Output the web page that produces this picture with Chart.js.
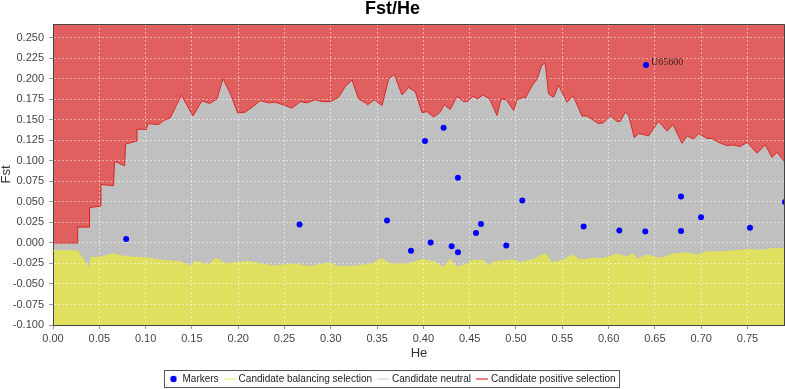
<!DOCTYPE html>
<html><head><meta charset="utf-8">
<script src="https://cdn.jsdelivr.net/npm/chart.js@4/dist/chart.umd.min.js"></script>
<style>html,body{margin:0;padding:0;background:#fff;overflow:hidden}</style>
</head><body>
<canvas id="c" width="785" height="389" style="display:block;width:785px;height:389px"></canvas>
<script>
// ---- data ----
const seriesNames = ['Markers', 'Candidate balancing selection', 'Candidate neutral', 'Candidate positive selection'];
const chartTitle = 'Fst/He';
const xTitle = 'He';
const yTitle = 'Fst';
const xRange = [0, 0.7905];
const yRange = [-0.1, 0.2668];
const xStep = 0.05;
const yStep = 0.025;

// upper boundary of the neutral envelope
const heUpper = [0, 0.0266, 0.0266, 0.0395, 0.0395, 0.0518, 0.0518, 0.0654, 0.0665, 0.0773, 0.0784, 0.09, 0.0907, 0.1008, 0.1026, 0.114, 0.1194, 0.1267, 0.1386, 0.1512, 0.1609, 0.1691, 0.1771, 0.1836, 0.1925, 0.1994, 0.2077, 0.2166, 0.2239, 0.2328, 0.2401, 0.249, 0.2581, 0.2671, 0.2743, 0.2833, 0.2905, 0.2995, 0.3084, 0.3157, 0.3229, 0.33, 0.3373, 0.3397, 0.347, 0.3553, 0.3624, 0.3686, 0.3769, 0.384, 0.3913, 0.3985, 0.4039, 0.411, 0.4175, 0.4226, 0.429, 0.4363, 0.4434, 0.4477, 0.4536, 0.4585, 0.4644, 0.4715, 0.4795, 0.4838, 0.4895, 0.4974, 0.5011, 0.5082, 0.51, 0.5173, 0.5227, 0.5281, 0.5316, 0.5352, 0.5406, 0.546, 0.5551, 0.5616, 0.5713, 0.5767, 0.5892, 0.5946, 0.6018, 0.6091, 0.6127, 0.618, 0.6216, 0.6278, 0.6324, 0.6432, 0.654, 0.6631, 0.6695, 0.6793, 0.6847, 0.6918, 0.6972, 0.7063, 0.7117, 0.7188, 0.7279, 0.735, 0.7422, 0.7495, 0.7603, 0.7692, 0.7765, 0.7819, 0.7897, 0.7905];
const fstUpper = [0, 0, 0.0193, 0.0193, 0.043, 0.045, 0.0713, 0.0697, 0.0994, 0.094, 0.1206, 0.124, 0.1386, 0.1383, 0.1454, 0.1442, 0.149, 0.1526, 0.18, 0.1547, 0.1734, 0.1698, 0.1755, 0.2004, 0.1795, 0.1583, 0.1595, 0.1667, 0.1734, 0.1707, 0.1715, 0.1683, 0.1643, 0.1722, 0.1707, 0.1746, 0.1722, 0.1722, 0.1775, 0.1907, 0.1987, 0.1755, 0.1707, 0.1683, 0.1746, 0.1675, 0.1995, 0.2055, 0.1803, 0.1895, 0.1843, 0.1587, 0.1602, 0.1535, 0.1587, 0.1683, 0.1626, 0.1787, 0.1722, 0.1722, 0.1787, 0.1755, 0.1803, 0.1755, 0.1554, 0.1755, 0.1746, 0.1614, 0.1746, 0.1775, 0.1763, 0.1915, 0.1995, 0.2175, 0.2187, 0.1815, 0.1775, 0.1923, 0.1715, 0.1795, 0.1547, 0.1547, 0.1454, 0.1466, 0.1547, 0.1482, 0.1482, 0.1595, 0.1554, 0.1282, 0.1334, 0.1306, 0.1482, 0.1362, 0.1442, 0.1214, 0.1306, 0.1266, 0.1334, 0.1274, 0.1274, 0.1226, 0.1186, 0.1194, 0.1174, 0.1226, 0.1094, 0.1194, 0.1042, 0.1106, 0.0994, 0.098];

// lower boundary of the neutral envelope
const heLower = [0, 0.0266, 0.0395, 0.041, 0.0511, 0.0619, 0.0654, 0.0727, 0.087, 0.0978, 0.1159, 0.1375, 0.1483, 0.1537, 0.168, 0.1753, 0.1879, 0.2023, 0.2131, 0.2239, 0.2382, 0.2598, 0.2779, 0.2987, 0.3067, 0.3283, 0.3462, 0.3542, 0.3642, 0.3823, 0.3985, 0.411, 0.4218, 0.429, 0.4355, 0.4471, 0.4536, 0.465, 0.4715, 0.4758, 0.4974, 0.5046, 0.519, 0.5316, 0.5389, 0.5514, 0.5605, 0.5694, 0.5821, 0.5946, 0.6091, 0.6199, 0.627, 0.6307, 0.6415, 0.6559, 0.6685, 0.6847, 0.6955, 0.7063, 0.7207, 0.735, 0.7495, 0.7638, 0.7782, 0.7905];
const fstLower = [-0.0096, -0.0096, -0.0309, -0.0177, -0.0173, -0.014, -0.0128, -0.0156, -0.0173, -0.0177, -0.0208, -0.0228, -0.028, -0.022, -0.0268, -0.0188, -0.0256, -0.0232, -0.0228, -0.0256, -0.028, -0.0256, -0.0288, -0.024, -0.0288, -0.028, -0.0248, -0.0188, -0.0256, -0.0256, -0.02, -0.0228, -0.0297, -0.02, -0.0297, -0.0256, -0.0208, -0.0216, -0.028, -0.0228, -0.0208, -0.024, -0.02, -0.0128, -0.024, -0.0208, -0.0148, -0.0208, -0.0188, -0.0188, -0.0136, -0.0168, -0.0128, -0.02, -0.0148, -0.0188, -0.0136, -0.012, -0.0148, -0.0108, -0.0108, -0.0096, -0.008, -0.0088, -0.0068, -0.0068];

// markers
const markerHe  = [0.079, 0.2663, 0.3607, 0.3866, 0.4017, 0.4078, 0.4218, 0.4305, 0.4373, 0.4373, 0.4568, 0.4622, 0.4895, 0.5068, 0.573, 0.6116, 0.6396, 0.6404, 0.6782, 0.6782, 0.6998, 0.7527, 0.7905];
const markerFst = [0.0048, 0.0225, 0.0273, -0.0096, 0.1242, 0.0004, 0.1403, -0.004, 0.0793, -0.0112, 0.012, 0.0232, -0.0032, 0.0517, 0.02, 0.0152, 0.014, 0.2167, 0.0565, 0.0144, 0.0312, 0.0184, 0.05];
const markerLabels = ['', '', '', '', '', '', '', '', '', '', '', '', '', '', '', '', '', 'U65600', '', '', '', '', ''];

// ---- styling ----
const C_RED_FILL = 'rgb(224,96,96)';
const C_RED_LINE = 'rgb(214,36,36)';
const C_GRAY = 'rgb(192,192,192)';
const C_YELLOW = 'rgb(224,224,96)';
const C_BLUE = '#0000ff';
const C_GRID = 'rgba(255,255,255,0.5)';
const FONT = '"Liberation Sans", Arial, sans-serif';

const toXY = (xs, ys) => xs.map((x, i) => ({x: x, y: ys[i]}));

function lineIcon(color) {
  const c = document.createElement('canvas');
  c.width = 12; c.height = 3;
  const g = c.getContext('2d');
  g.fillStyle = color; g.fillRect(0, 1, 12, 1);
  return c;
}
function dotIcon(color) {
  const c = document.createElement('canvas');
  c.width = 8; c.height = 8;
  const g = c.getContext('2d');
  g.fillStyle = color; g.beginPath(); g.arc(4, 4, 3.2, 0, Math.PI * 2); g.fill();
  return c;
}
const legendIcons = [dotIcon(C_BLUE), lineIcon('rgb(236,236,80)'), lineIcon('rgb(200,200,200)'), lineIcon('rgb(220,0,0)')];

const framePlugin = {
  id: 'frame',
  afterDatasetsDraw(chart) {
    const ctx = chart.ctx;
    const xs = chart.scales.x, ys = chart.scales.y;
    ctx.save();
    ctx.font = '10px "Liberation Serif", "Times New Roman", serif';
    ctx.fillStyle = '#3a1c1c';
    ctx.textBaseline = 'middle';
    ctx.textAlign = 'left';
    markerLabels.forEach((t, i) => {
      if (!t) return;
      ctx.fillText(t, xs.getPixelForValue(markerHe[i]) + 5, ys.getPixelForValue(markerFst[i]) - 3);
    });
    ctx.restore();
  },
  afterDraw(chart) {
    const ctx = chart.ctx;
    const a = chart.chartArea;
    ctx.save();
    ctx.strokeStyle = '#444';
    ctx.lineWidth = 1;
    ctx.beginPath();
    ctx.moveTo(a.left, Math.round(a.top) + 0.5);
    ctx.lineTo(a.right - 0.5, Math.round(a.top) + 0.5);
    ctx.lineTo(a.right - 0.5, a.bottom);
    ctx.stroke();
    // legend frame
    const hb = chart.legend && chart.legend.legendHitBoxes;
    if (hb && hb.length) {
      const first = hb[0], last = hb[hb.length - 1];
      const l = Math.round(first.left - 5) + 0.5;
      const r = Math.round(last.left + last.width + 3) + 0.5;
      const t = Math.round(first.top - 4) + 0.5;
      const b = Math.round(first.top + first.height + 3) + 0.5;
      ctx.strokeStyle = '#555';
      ctx.strokeRect(l, t, r - l, b - t);
    }
    ctx.restore();
  }
};

new Chart(document.getElementById('c'), {
  type: 'scatter',
  data: {
    datasets: [
      {label: seriesNames[0], data: toXY(markerHe, markerFst), showLine: false, pointRadius: 3, pointHoverRadius: 3,
       pointBackgroundColor: C_BLUE, pointBorderColor: C_BLUE, pointBorderWidth: 0, order: 0, clip: 0},
      {label: seriesNames[1], data: toXY(heLower, fstLower), showLine: true, pointRadius: 0, tension: 0,
       borderColor: C_YELLOW, borderWidth: 1, backgroundColor: C_YELLOW, fill: 'start', order: 1},
      {label: seriesNames[2], data: toXY(heUpper, fstUpper), showLine: true, pointRadius: 0, tension: 0,
       borderColor: 'rgba(0,0,0,0)', borderWidth: 1, backgroundColor: C_GRAY, fill: 'start', order: 3},
      {label: seriesNames[3], data: toXY(heUpper, fstUpper), showLine: true, pointRadius: 0, tension: 0,
       borderColor: C_RED_LINE, borderWidth: 1, backgroundColor: C_RED_FILL, fill: 'end', order: 2}
    ]
  },
  options: {
    responsive: false,
    devicePixelRatio: 1,
    animation: false,
    events: [],
    layout: {padding: 0, autoPadding: false},
    plugins: {
      filler: {drawTime: 'beforeDraw'},
      tooltip: {enabled: false},
      title: {display: true, text: chartTitle, color: '#000',
        font: {family: FONT, size: 18, weight: 'bold', lineHeight: 1}, padding: {top: 0, bottom: 6}},
      legend: {
        display: true, position: 'bottom', maxHeight: 22,
        labels: {
          usePointStyle: true, pointStyleWidth: 8, padding: 7, color: '#222',
          font: {family: FONT, size: 10},
          generateLabels: (chart) => chart.data.datasets.map((ds, i) => ({
            text: ds.label, pointStyle: legendIcons[i], fillStyle: 'rgba(0,0,0,0)',
            strokeStyle: 'rgba(0,0,0,0)', lineWidth: 0, hidden: false, datasetIndex: i, fontColor: '#222'
          }))
        }
      }
    },
    scales: {
      x: {
        type: 'linear', min: xRange[0], max: xRange[1],
        afterFit: (s) => { s.height = 42; s.paddingRight = 0; s.paddingLeft = 0; },
        ticks: {stepSize: xStep, includeBounds: false, autoSkip: false, maxRotation: 0, padding: 3,
          color: '#444', font: {family: FONT, size: 11}, callback: (v) => Number(v).toFixed(2)},
        grid: {color: C_GRID, tickLength: 4, tickColor: '#999', tickBorderDash: []},
        border: {display: true, color: '#444', width: 1, dash: [2, 2]},
        title: {display: true, text: xTitle, color: '#333', font: {family: FONT, size: 13, lineHeight: 1}, padding: {top: 0, bottom: 7}}
      },
      y: {
        type: 'linear', min: yRange[0], max: yRange[1],
        afterFit: (s) => { s.width = 53; s.paddingTop = 0; s.paddingBottom = 0; },
        ticks: {stepSize: yStep, includeBounds: false, autoSkip: false, padding: 5,
          color: '#444', font: {family: FONT, size: 11}, callback: (v) => Number(v).toFixed(3)},
        grid: {color: C_GRID, tickLength: 4, tickColor: '#999', tickBorderDash: []},
        border: {display: true, color: '#444', width: 1, dash: [2, 2]},
        title: {display: true, text: yTitle, color: '#333', font: {family: FONT, size: 13, lineHeight: 1}, padding: {top: 0, bottom: 0}}
      }
    }
  },
  plugins: [framePlugin]
});
</script>
</body></html>
